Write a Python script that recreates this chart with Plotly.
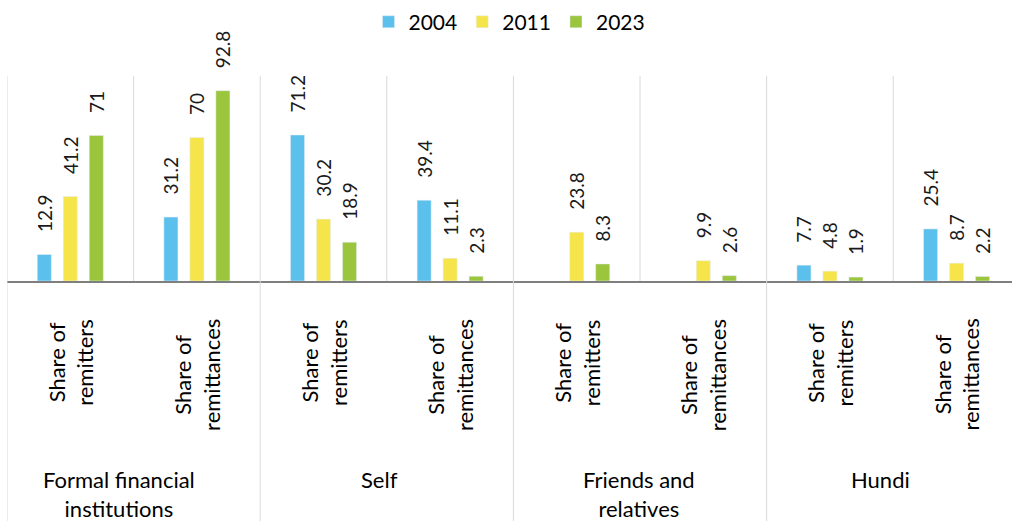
import plotly.graph_objects as go

# Remittance channels: two measures per channel, three survey years
groups = ["Formal financial<br>institutions", "Self", "Friends and<br>relatives", "Hundi"]
measures = ["Share of<br>remitters", "Share of<br>remittances"]
years = ["2004", "2011", "2023"]

values_2004 = [12.9, 31.2, 71.2, 39.4, None, None, 7.7, 25.4]
values_2011 = [41.2, 70, 30.2, 11.1, 23.8, 9.9, 4.8, 8.7]
values_2023 = [71, 92.8, 18.9, 2.3, 8.3, 2.6, 1.9, 2.2]

colors = ["#5BC0EB", "#F6E54A", "#9BC53D"]
FONT = "Lato"
PAD = "\u00a0\u00a0\u00a0\u00a0"

n_cat = len(groups) * len(measures)
x_pos = list(range(n_cat))

fig = go.Figure()
for name, vals, col in zip(years, [values_2004, values_2011, values_2023], colors):
    fig.add_trace(go.Bar(
        x=x_pos, y=vals, name=name, marker_color=col,
        text=[PAD + f"{v:g}" if v is not None else "" for v in vals],
        textposition="outside", textangle=-90, constraintext="none",
        cliponaxis=False,
        textfont=dict(family=FONT, size=19, color="#1a1a1a"),
    ))

shapes = []
# vertical separators between every measure, above the axis
for k in range(n_cat + 1):
    shapes.append(dict(type="line", xref="x", yref="paper", x0=k - 0.5, x1=k - 0.5,
                       y0=0, y1=1, line=dict(color="#D9D9D9", width=1)))
# separators between channel groups, below the axis
for g in range(len(groups) + 1):
    xg = g * len(measures) - 0.5
    shapes.append(dict(type="line", xref="x", yref="paper", x0=xg, x1=xg,
                       y0=0, y1=-1.2, line=dict(color="#D9D9D9", width=1)))

annotations = []
for i in range(n_cat):
    annotations.append(dict(
        x=i, xref="x", y=0, yref="paper", yshift=-36, text=measures[i % len(measures)],
        textangle=-90, showarrow=False, xanchor="center", yanchor="top",
        font=dict(family=FONT, size=22, color="#000000"),
    ))
group_xshift = [-15, -7, -1, -13]
for g, label in enumerate(groups):
    annotations.append(dict(
        x=g * len(measures) + 0.5, xref="x", y=0, yref="paper", yshift=-183,
        xshift=group_xshift[g], text=label,
        showarrow=False, xanchor="center", yanchor="top",
        font=dict(family=FONT, size=22, color="#000000"),
    ))

fig.update_layout(
    width=1012, height=521,
    margin=dict(l=7, r=0, t=76, b=240, autoexpand=False),
    paper_bgcolor="white", plot_bgcolor="white",
    barmode="group", bargap=0.384, bargroupgap=0.46,
    showlegend=True,
    legend=dict(orientation="h", x=0.5, xanchor="center", y=1.263, yanchor="middle",
                font=dict(family=FONT, size=21, color="#000000"),
                itemwidth=30, traceorder="normal"),
    xaxis=dict(range=[-0.5, n_cat - 0.562], showticklabels=False, showgrid=False,
               zeroline=False, showline=True, linecolor="#7F7F7F", linewidth=1.5,
               fixedrange=True),
    yaxis=dict(range=[0, 100], visible=False, fixedrange=True),
    shapes=shapes, annotations=annotations,
)

fig.write_html("out.html")
